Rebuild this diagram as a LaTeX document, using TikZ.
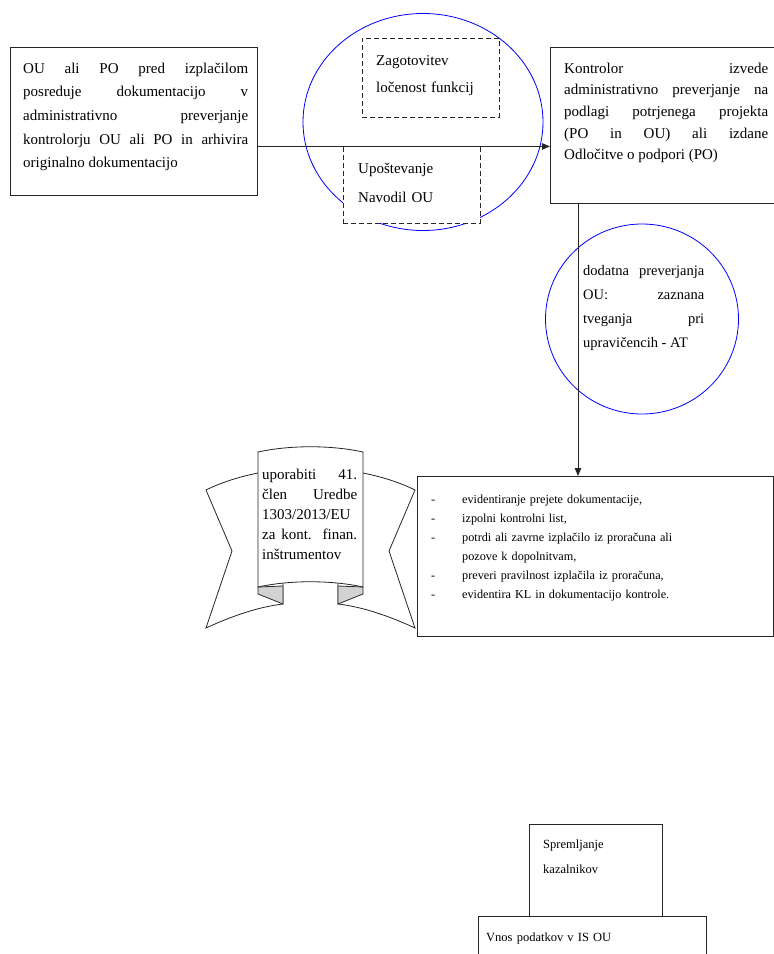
\documentclass[tikz,border=0pt]{standalone}
\usepackage{fontspec}
\setmainfont{Liberation Serif}
\usetikzlibrary{shapes.geometric,arrows.meta}

\tikzset{
  box/.style={draw=black!85, line width=0.9pt, fill=white, inner sep=0pt, anchor=north west},
  dbox/.style={box, dashed, dash pattern=on 5pt off 3pt},
  ring/.style={draw=blue, line width=0.8pt, ellipse, inner sep=0pt},
  txt/.style={inner sep=0pt, anchor=base west, align=justify},
  arr/.style={line width=0.9pt, draw=black!85, -{Triangle[length=8pt,width=6.5pt]}},
  fold/.style={draw=black!85, line width=0.8pt, fill=gray!35},
}

\begin{document}
\begin{tikzpicture}[x=1pt,y=-1pt]

    \clip (0,0) rectangle (774,954); % okvir slike
    \fill[white] (0,0) rectangle (774,954);

    % zgornja vrstica
    \node[box, minimum width=247, minimum height=148] (src) at (10,47) {};
    \node[txt, text width=225, font=\fontsize{15}{23.7}\selectfont] (src-t) at (23,73)
      {OU ali PO pred izplačilom\linebreak posreduje dokumentacijo v\linebreak administrativno preverjanje\linebreak kontrolorju OU ali PO in arhivira\linebreak originalno dokumentacijo};

    \node[box, minimum width=240, minimum height=156] (ctl) at (550,47) {};
    \node[txt, text width=204, font=\fontsize{15}{21.7}\selectfont] (ctl-t) at (564,73)
      {Kontrolor izvede\linebreak administrativno preverjanje na\linebreak podlagi potrjenega projekta\linebreak (PO in OU) ali izdane\linebreak Odločitve o podpori (PO)};

    \node[ring, minimum width=240, minimum height=217] (sep) at (423,122) {};

    \node[dbox, minimum width=137, minimum height=79] (zag) at (362,38) {};
    \node[txt, text width=118, align=left, font=\fontsize{15}{27}\selectfont] (zag-t) at (376,65)
      {Zagotovitev\\ ločenost funkcij};

    \node[dbox, minimum width=137, minimum height=77] (upo) at (343,146) {};
    \node[txt, text width=115, align=left, font=\fontsize{15}{29}\selectfont] (upo-t) at (358,173)
      {Upoštevanje\\ Navodil OU};

    \draw[arr] ([yshift=-25pt]src.east) -- ([yshift=-21pt]ctl.west); % predaja

    % dodatna preverjanja
    \node[ring, minimum width=193, minimum height=190] (at) at (642,319) {};
    \node[txt, text width=121, font=\fontsize{14.5}{24}\selectfont] (at-t) at (583,275)
      {dodatna preverjanja\linebreak OU: zaznana\linebreak tveganja pri\linebreak upravičencih - AT};

    % trak (41. clen)
    \draw[draw=black!85, line width=0.8pt, fill=white]
      (283,473) -- (258,473) .. controls (238,477) and (220,483) .. (206,490)
      -- (232,551) -- (206,628) .. controls (232,616) and (258,607) .. (283,604) -- cycle; % levo krilo
    \draw[draw=black!85, line width=0.8pt, fill=white]
      (338,473) -- (363,473) .. controls (383,477) and (401,483) .. (415,490)
      -- (389,551) -- (415,628) .. controls (389,616) and (363,607) .. (338,604) -- cycle; % desno krilo
    \draw[fold] (258,587) -- (258,594) -- (283,604) -- (283,586) -- cycle;
    \draw[fold] (363,587) -- (363,594) -- (338,604) -- (338,586) -- cycle;
    \draw[draw=black!85, line width=0.8pt, fill=white]
      (258,452) .. controls (290,445) and (331,445) .. (363,452)
      -- (363,587) .. controls (331,580) and (290,580) .. (258,587) -- cycle; % sredina
    \node[txt, text width=95, font=\fontsize{15}{20}\selectfont] (rib-t) at (262,479)
      {uporabiti 41.\linebreak člen Uredbe\linebreak 1303/2013/EU\linebreak za kont. finan.\linebreak inštrumentov};

    % naloge kontrolorja
    \node[box, minimum width=356, minimum height=160] (lst) at (417,476) {};
    \node[txt, text width=330, align=left, font=\fontsize{12.2}{19}\selectfont] (lst-t) at (431,503)
      {\makebox[31pt][l]{-}evidentiranje prejete dokumentacije,\\
       \makebox[31pt][l]{-}izpolni kontrolni list,\\
       \makebox[31pt][l]{-}potrdi ali zavrne izplačilo iz proračuna ali\\
       \hspace*{31pt}pozove k dopolnitvam,\\
       \makebox[31pt][l]{-}preveri pravilnost izplačila iz proračuna,\\
       \makebox[31pt][l]{-}evidentira KL in dokumentacijo kontrole.};

    \draw[arr] ([xshift=28pt]ctl.south west) -- ([xshift=161pt]lst.north west);

    % spodaj
    \node[box, minimum width=133, minimum height=92] (kaz) at (529,824) {};
    \node[txt, text width=110, align=left, font=\fontsize{12.5}{25}\selectfont] (kaz-t) at (543,848)
      {Spremljanje\\ kazalnikov};
    \node[box, minimum width=228, minimum height=60] (isou) at (478,916) {};
    \node[txt, text width=200, align=left, font=\fontsize{12.5}{15}\selectfont] (isou-t) at (486,941)
      {Vnos podatkov v IS OU};

\end{tikzpicture}
\end{document}
